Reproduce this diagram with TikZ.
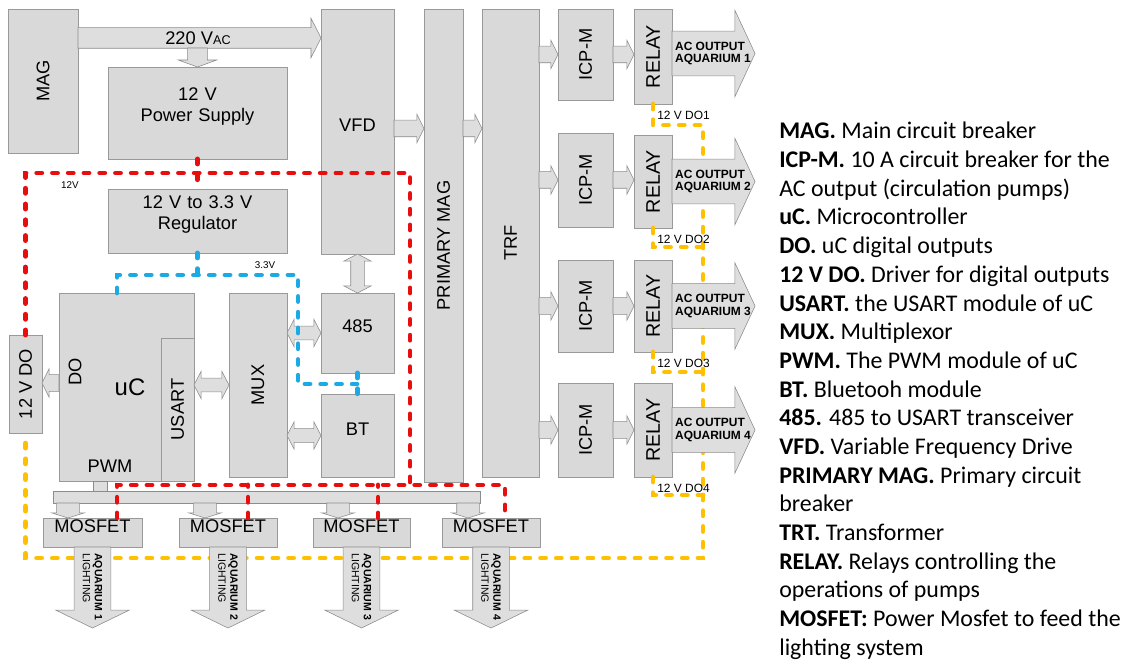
\documentclass[tikz,border=0pt]{standalone}
\usepackage{fontspec}
\setmainfont{Liberation Sans}
\newfontfamily\legfont{Carlito}
\usetikzlibrary{shapes.arrows,fit,calc}
\definecolor{boxgray}{RGB}{217,217,217}
\definecolor{arrgray}{RGB}{222,222,222}
\definecolor{wirered}{RGB}{232,14,14}
\definecolor{wireyellow}{RGB}{255,192,0}
\definecolor{wireblue}{RGB}{28,170,228}

\begin{document}
\begin{tikzpicture}[
  x=0.025cm, y=-0.025cm,
  font=\fontsize{13}{15}\selectfont,
  box/.style={rectangle,draw=black!40,line width=0.5pt,fill=boxgray,inner sep=0pt,outer sep=0pt},
  vtxt/.style={rotate=90,inner sep=0pt},
  fat/.style={single arrow,draw=black!45,line width=0.4pt,fill=arrgray,inner sep=0pt,outer sep=0pt,anchor=tail},
  link/.style={fat,inner ysep=0.2cm,single arrow head extend=0.15cm,single arrow tip angle=127},
  dlink/.style={double arrow,draw=black!45,line width=0.4pt,fill=arrgray,inner sep=0pt,outer sep=0pt,inner ysep=0.1625cm,double arrow head extend=0.175cm,double arrow tip angle=125},
  outarr/.style={fat,inner ysep=0.55cm,single arrow head extend=0.525cm,minimum height=2.075cm,single arrow tip angle=130},
  lightarr/.style={fat,rotate=-90,inner ysep=0.45cm,single arrow head extend=0.4625cm,minimum height=2.025cm,single arrow tip angle=128},
  pwmarr/.style={fat,rotate=-90,inner ysep=0.275cm,single arrow head extend=0.125cm,minimum height=0.375cm,single arrow tip angle=145},
  bus/.style={fill=arrgray,draw=black!45,line width=0.4pt},
  wire/.style={line width=3.5pt,line cap=round,dash pattern=on 3.5pt off 7.7pt},
  rwire/.style={wire,wirered},
  ywire/.style={wire,wireyellow},
  bwire/.style={wire,wireblue},
  wlab/.style={font=\fontsize{8.5}{9}\selectfont,inner sep=0pt},
  vlab/.style={font=\fontsize{7}{8}\selectfont,inner sep=0pt},
  outtxt/.style={font=\fontsize{8.5}{9}\selectfont\bfseries,align=left,inner sep=0pt},
  lighttxt/.style={font=\fontsize{7.5}{8.7}\selectfont\bfseries,align=left,inner sep=0pt,rotate=-90,anchor=west},
]
\fill[white] (0,0) rectangle (1132,662);
\path[use as bounding box] (0,0) rectangle (1132,662);
% power side
\node[box,fit={(8,9) (78,153)}] (mag) {};
\node[vtxt] (magtxt) at (mag) {MAG};
\node[box,fit={(108,67) (287,159)},align=center] (psu) {12 V\\Power Supply};
\node[box,fit={(108,189) (287,253)},align=center] (reg) {12 V to 3.3 V\\Regulator};
\node[box,fit={(321,9) (394,254)}] (vfd) {VFD};
\node[box,fit={(424,9) (463,482)}] (pmag) {};
\node[vtxt] (pmagtxt) at (pmag) {PRIMARY MAG};
\node[box,fit={(482,9) (539,477)}] (trf) {};
\node[vtxt] (trftxt) at (trf) {TRF};
\node[box,fit={(558,9) (613,100)}] (icp1) {};
\node[box,fit={(558,133) (613,227)}] (icp2) {};
\node[box,fit={(558,260) (613,352)}] (icp3) {};
\node[box,fit={(558,383) (613,477)}] (icp4) {};
\node[vtxt] (icptxt1) at (icp1) {ICP-M};
\node[vtxt] (icptxt2) at (icp2) {ICP-M};
\node[vtxt] (icptxt3) at (icp3) {ICP-M};
\node[vtxt] (icptxt4) at (icp4) {ICP-M};
\node[box,fit={(634,9) (672,104)}] (relay1) {};
\node[box,fit={(634,135) (672,228)}] (relay2) {};
\node[box,fit={(634,260) (672,352)}] (relay3) {};
\node[box,fit={(634,383) (672,477)}] (relay4) {};
\node[vtxt,font=\fontsize{14}{16}\selectfont] (relaytxt1) at (relay1) {RELAY};
\node[vtxt,font=\fontsize{14}{16}\selectfont] (relaytxt2) at (relay2) {RELAY};
\node[vtxt,font=\fontsize{14}{16}\selectfont] (relaytxt3) at (relay3) {RELAY};
\node[vtxt,font=\fontsize{14}{16}\selectfont] (relaytxt4) at (relay4) {RELAY};
% control side
\node[box,fit={(59,293) (194,481)}] (uc) {};
\node[box,fit={(161,338) (194,481)}] (usart) {};
\node[vtxt] (usarttxt) at (usart) {USART};
\node[vtxt] (ucdo) at (75,372) {DO};
\node[inner sep=0pt,font=\fontsize{17}{19}\selectfont] (ucname) at (130,387) {uC};
\node[inner sep=0pt] (ucpwm) at (110,466) {PWM};
\node[box,fit={(9,335) (42,433)}] (dodrv) {};
\node[vtxt] (dodrvtxt) at (dodrv) {12 V DO};
\node[box,fit={(229,293) (287,477)}] (mux) {};
\node[vtxt] (muxtxt) at (mux) {MUX};
\node[box,fit={(321,293) (394,373)}] (rs485) {485};
\node[box,fit={(321,394) (394,477)}] (bt) {BT};
\node[box,fit={(43,518) (142,547)}] (mos1) {MOSFET};
\node[box,fit={(179,518) (277,547)}] (mos2) {MOSFET};
\node[box,fit={(313,518) (410,547)}] (mos3) {MOSFET};
\node[box,fit={(442,518) (540,547)}] (mos4) {MOSFET};
% 12 V DO lines
\coordinate (yj1) at (703,125);
\coordinate (yj2) at (703,247);
\coordinate (yj3) at (703,372);
\coordinate (yj4) at (703,495);
\coordinate (yv) at (703,558);
\draw[ywire] (relay1.south) |- (yj1) -- (yv) -| (dodrv.south);
\draw[ywire] (relay2.south) |- (yj2);
\draw[ywire] (relay3.south) |- (yj3);
\draw[ywire] (relay4.south) |- (yj4);
\node[wlab,anchor=west] (do1) at ($(relay1.south)+(4,11)$) {12 V DO1};
\node[wlab,anchor=west] (do2) at ($(relay2.south)+(4,11)$) {12 V DO2};
\node[wlab,anchor=west] (do3) at ($(relay3.south)+(4,11)$) {12 V DO3};
\node[wlab,anchor=west] (do4) at ($(relay4.south)+(4,11)$) {12 V DO4};
% block arrows
\node[fat,inner ysep=0.25cm,single arrow head extend=0.2375cm,minimum height=6.075cm,single arrow tip angle=126] (vac) at ($(mag.north east)+(0,29)$) {};
\node[inner sep=0pt] (vactxt) at (198,38) {220 V{\fontsize{9}{10}\selectfont AC}};
\node[fat,rotate=-90,inner ysep=0.2375cm,single arrow head extend=0.2375cm,minimum height=0.475cm,single arrow tip angle=140] (feed) at ($(psu.north)+(0,-19)$) {};
\node[link,minimum height=0.75cm] (vfdout) at ($(vfd.east)+(0,-3)$) {};
\node[link,minimum height=0.475cm] (pmagout) at (pmag.east |- vfdout.tail) {};
\node[link,minimum height=0.475cm] (trf1) at (trf.east |- icp1.west) {};
\node[link,minimum height=0.475cm] (trf2) at (trf.east |- icp2.west) {};
\node[link,minimum height=0.475cm] (trf3) at (trf.east |- icp3.west) {};
\node[link,minimum height=0.475cm] (trf4) at (trf.east |- icp4.west) {};
\node[link,minimum height=0.525cm] (icpout1) at (icp1.east) {};
\node[link,minimum height=0.525cm] (icpout2) at (icp2.east) {};
\node[link,minimum height=0.525cm] (icpout3) at (icp3.east) {};
\node[link,minimum height=0.525cm] (icpout4) at (icp4.east) {};
\node[outarr] (out1) at ($(relay1.east)+(0,-3)$) {};
\node[outarr] (out2) at (relay2.east) {};
\node[outarr] (out3) at (relay3.east) {};
\node[outarr] (out4) at (relay4.east) {};
\node[outtxt] (ot1) at ($(relay1.east)+(41,-3)$) {AC OUTPUT\\AQUARIUM 1};
\node[outtxt] (ot2) at ($(relay2.east)+(41,0)$) {AC OUTPUT\\AQUARIUM 2};
\node[outtxt] (ot3) at ($(relay3.east)+(41,0)$) {AC OUTPUT\\AQUARIUM 3};
\node[outtxt] (ot4) at ($(relay4.east)+(41,0)$) {AC OUTPUT\\AQUARIUM 4};
\node[link,rotate=180,minimum height=0.425cm] (dout) at ($(uc.west)+(0,-4)$) {};
\node[dlink,minimum height=0.875cm] (usartmux) at ($(usart.east |- mux.west)!.5!(mux.west)$) {};
\node[dlink,minimum height=0.85cm] (mux485) at ($(mux.east |- rs485.west)!.5!(rs485.west)$) {};
\node[dlink,minimum height=0.85cm] (muxbt) at ($(mux.east |- bt.west)!.5!(bt.west)$) {};
\node[dlink,rotate=90,minimum height=0.975cm] (vfd485) at ($(vfd.south)!.5!(rs485.north)$) {};
\node[lightarr] (la1) at (mos1.south) {};
\node[lightarr] (la2) at (mos2.south) {};
\node[lightarr] (la3) at (mos3.south) {};
\node[lightarr] (la4) at (mos4.south) {};
\node[lighttxt] (lt1) at ($(mos1.south)+(0,6)$) {AQUARIUM 1\\{\mdseries LIGHTING}};
\node[lighttxt] (lt2) at ($(mos2.south)+(0,6)$) {AQUARIUM 2\\{\mdseries LIGHTING}};
\node[lighttxt] (lt3) at ($(mos3.south)+(0,6)$) {AQUARIUM 3\\{\mdseries LIGHTING}};
\node[lighttxt] (lt4) at ($(mos4.south)+(0,6)$) {AQUARIUM 4\\{\mdseries LIGHTING}};
% PWM bus
\filldraw[bus] ($(uc.south west)+(34,0)$) rectangle +(14,10);
\filldraw[bus] (53,491) rectangle (480,503);
\node[pwmarr] (pw1) at ($(mos1.north west)+(25,-15)$) {};
\node[pwmarr] (pw2) at ($(mos2.north west)+(26,-15)$) {};
\node[pwmarr] (pw3) at ($(mos3.north west)+(25,-15)$) {};
\node[pwmarr] (pw4) at ($(mos4.north west)+(26,-15)$) {};
% 12 V lines
\coordinate (rj) at (410,173);
\coordinate (rb) at (410,485);
\coordinate (rd1) at ($(mos1.north west)+(74,0)$);
\coordinate (rd2) at ($(mos2.north west)+(69,0)$);
\coordinate (rd3) at ($(mos3.north west)+(65,0)$);
\coordinate (rd4) at ($(mos4.north west)+(63,0)$);
\draw[rwire] (dodrv.north) |- (rj) -- (rb);
\draw[rwire] (psu.south) -- (reg.north);
\draw[rwire] (rd1) |- (rd4 |- rb) -- (rd4);
\draw[rwire] (rd2) -- (rd2 |- rb);
\draw[rwire] (rd3) -- (rd3 |- rb);
\node[vlab] (v12) at (70,185) {12V};
% 3.3 V lines
\coordinate (b1) at (298,275);
\coordinate (b2) at (357,384);
\draw[bwire] ($(uc.north west)+(58,0)$) |- (b1) |- (b2);
\draw[bwire] (reg.south) -- (reg.south |- b1);
\draw[bwire] (rs485.south) -- (bt.north);
\node[vlab] (v33) at (265,265) {3.3V};
% legend
\node[anchor=north west,inner sep=0pt,align=left,font=\legfont\fontsize{17}{20.4}\selectfont] (legend) at (779,122) {%
\textbf{MAG.} Main circuit breaker\\
\textbf{ICP-M.} 10 A circuit breaker for the\\
AC output (circulation pumps)\\
\textbf{uC.} Microcontroller\\
\textbf{DO.} uC digital outputs\\
\textbf{12 V DO.} Driver for digital outputs\\
\textbf{USART.} the USART module of uC\\
\textbf{MUX.} Multiplexor\\
\textbf{PWM.} The PWM module of uC\\
\textbf{BT.} Bluetooh module\\
\textbf{485.} 485 to USART transceiver\\
\textbf{VFD.} Variable Frequency Drive\\
\textbf{PRIMARY MAG.} Primary circuit\\
breaker\\
\textbf{TRT.} Transformer\\
\textbf{RELAY.} Relays controlling the\\
operations of pumps\\
\textbf{MOSFET:} Power Mosfet to feed the\\
lighting system};
\end{tikzpicture}
\end{document}
